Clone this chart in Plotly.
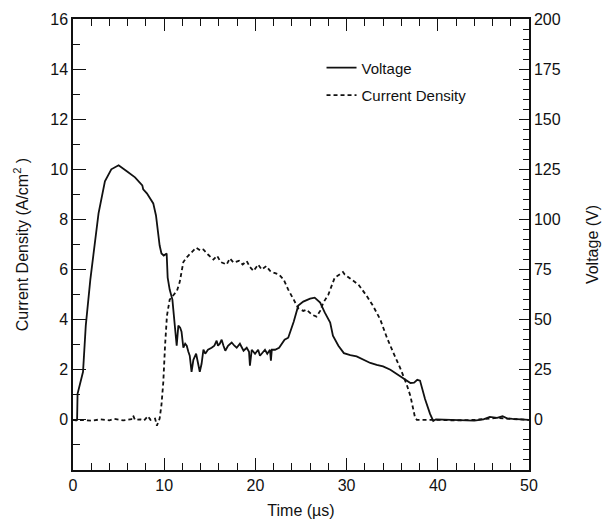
import plotly.graph_objects as go

# ---- data ----
volt_t = [0.0, 0.45, 0.5, 1.1, 1.4, 1.9, 2.8, 3.5, 4.2, 5.0, 5.9, 6.8, 7.6, 7.7, 8.1, 8.8, 9.1, 9.35, 9.5, 9.7,
          9.95, 10.27, 10.38, 10.6, 10.75, 10.9, 11.0, 11.2, 11.37, 11.55, 11.75, 11.9, 12.1, 12.3, 12.47, 12.65,
          12.8, 13.0, 13.2, 13.5, 13.7, 13.9, 14.1, 14.3, 14.5, 14.8, 15.2, 15.5, 15.75, 15.9, 16.1, 16.3, 16.5,
          16.7, 17.0, 17.4, 17.7, 17.95, 18.3, 18.7, 19.05, 19.3, 19.4, 19.6, 19.96, 20.3, 20.5, 20.7, 21.05,
          21.3, 21.6, 21.7, 21.8, 22.15, 22.6, 23.2, 23.6, 24.2, 24.7, 25.25, 26.0, 26.5, 27.1, 27.6, 28.2, 28.5,
          29.1, 29.7, 30.4, 31.1, 31.8, 32.6, 33.3, 34.0, 34.8, 35.5, 36.2, 37.0, 37.4, 37.75, 38.05, 38.6, 39.15,
          39.5, 39.8, 41.0, 42.5, 44.0, 45.0, 45.7, 46.5, 47.1, 47.6, 48.2, 50.0]
voltage = [0, 0, 13, 24, 47, 70, 103, 119, 125, 127, 124, 121, 117, 115, 113, 108, 102, 92, 87, 83,
           82, 83, 71, 65, 62, 60, 55, 47, 37, 47, 46, 44, 36, 38, 37, 34,
           32, 24, 30, 33, 29, 24, 28, 35, 33, 35, 36, 37, 39.5, 37, 38, 40, 37,
           34.5, 37, 38.6, 37, 36, 38, 34.5, 36, 34, 27, 35, 33, 35, 32, 33, 35,
           33, 35, 29.5, 35, 35, 36, 40, 41, 49, 57, 59, 60.5, 61, 58.5, 53.6, 48.6, 42,
           37, 33.3, 32.3, 31.7, 30, 28.4, 27.4, 26.7, 25, 22.9, 20.4, 18.4, 18.6, 20, 19.6, 10.4, 3,
           -0.5, 0.3, 0.2, 0, -0.4, 0.3, 1.5, 1.0, 1.8, 0.8, 0.5, 0]

cd_t = [0.0, 0.3, 1.0, 2.0, 3.0, 4.0, 4.5, 5.5, 6.4, 6.6, 6.8, 7.4, 7.8, 8.2, 8.5, 9.0, 9.2, 9.5, 9.7, 9.9,
        10.1, 10.3, 10.6, 11.0, 11.4, 11.7, 12.1, 12.5, 13.0, 13.5, 14.0, 14.3, 14.8, 15.4, 15.8, 16.2, 16.85,
        17.2, 17.6, 18.2, 18.6, 19.05, 19.4, 19.8, 20.3, 20.7, 21.2, 21.6, 22.0, 22.6, 23.1, 23.6, 24.2, 24.7,
        25.25, 25.6, 26.2, 26.7, 27.1, 27.45, 28.0, 28.4, 28.7, 29.3, 29.6, 29.8, 30.6, 31.3, 32.2, 32.9, 33.7,
        34.4, 35.1, 35.9, 36.6, 37.0, 37.5, 37.7, 40.0, 42.0, 44.0, 45.5, 46.5, 47.5, 50.0]
current_density = [0, -0.02, 0.0, -0.03, 0.02, -0.02, 0.04, -0.02, 0.03, 0.17, 0.0, 0.02, -0.02, 0.15, 0.0, 0.05,
                   -0.23, 0.05, 0.6, 1.5, 3.0, 4.15, 4.8, 5.0, 5.15, 5.5, 6.3, 6.5, 6.67, 6.87, 6.75, 6.8, 6.6,
                   6.4, 6.55, 6.3, 6.2, 6.45, 6.28, 6.35, 6.2, 6.34, 6.1, 5.94, 6.2, 6.0, 6.14, 5.95, 5.88, 5.8,
                   5.6, 5.2, 4.8, 4.45, 4.35, 4.4, 4.2, 4.12, 4.35, 4.68, 5.0, 5.4, 5.68, 5.82, 5.9, 5.8, 5.6,
                   5.4, 4.95, 4.55, 4.0, 3.3, 2.7, 2.05, 1.4, 0.95, 0.1, 0.0, 0.0, -0.02, 0.0, 0.05, 0.08, 0.05, 0.0]

x_ticks = [0, 10, 20, 30, 40, 50]
cd_ticks = [0, 2, 4, 6, 8, 10, 12, 14, 16]
v_ticks = [0, 25, 50, 75, 100, 125, 150, 175, 200]

FONT = "Liberation Sans, Arial, Helvetica, sans-serif"

fig = go.Figure()
fig.add_trace(go.Scatter(x=volt_t, y=voltage, mode="lines", name="Voltage", yaxis="y2",
                         line=dict(color="#111111", width=1.8), legendgroup="a"))
fig.add_trace(go.Scatter(x=cd_t, y=current_density, mode="lines", name="Current Density", yaxis="y",
                         line=dict(color="#111111", width=1.8, dash="4px,3px"), legendgroup="b"))

axis_common = dict(showline=True, linecolor="#111111", linewidth=1.5, ticks="inside",
                   tickcolor="#111111", tickwidth=1.3, showgrid=False, zeroline=False, automargin=False,
                   tickfont=dict(family=FONT, size=16, color="#111111"))

fig.update_layout(
    width=605, height=521,
    margin=dict(l=73, r=76, t=19, b=51),
    paper_bgcolor="white", plot_bgcolor="white",
    font=dict(family=FONT, size=16, color="#111111"),
    xaxis=dict(range=[0, 50], tickmode="array", tickvals=x_ticks, ticklen=12, mirror="ticks",
               minor=dict(dtick=2, tick0=0, ticks="inside", ticklen=7, tickcolor="#111111", tickwidth=1.3),
               title=dict(text="Time (µs)", standoff=12, font=dict(size=16)), **axis_common),
    yaxis=dict(range=[-2, 16], tickmode="array", tickvals=cd_ticks, ticklen=13,
               minor=dict(dtick=1, tick0=0, ticks="inside", ticklen=7, tickcolor="#111111", tickwidth=1.3),
               title=dict(text="Current Density (A/cm<sup>2</sup> )", standoff=18, font=dict(size=16)),
               **axis_common),
    yaxis2=dict(range=[-25, 200], tickmode="array", tickvals=v_ticks, ticklen=10, overlaying="y", side="right",
                minor=dict(dtick=5, tick0=0, ticks="inside", ticklen=6, tickcolor="#111111", tickwidth=1.3),
                title=dict(text="Voltage (V)", standoff=27, font=dict(size=16)), **axis_common),
    legend=dict(x=0.545, y=0.928, xanchor="left", yanchor="top", bgcolor="rgba(0,0,0,0)",
                font=dict(family=FONT, size=15, color="#111111"), tracegroupgap=5),
    showlegend=True,
)

fig.write_html("out.html")
